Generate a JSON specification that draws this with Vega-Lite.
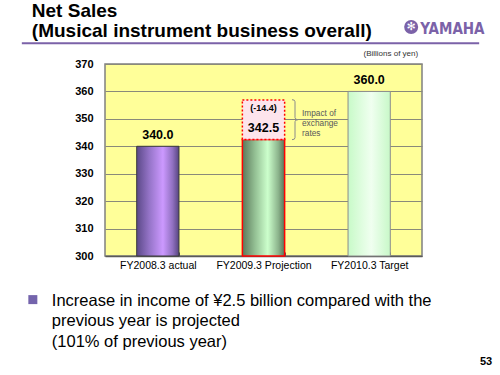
{
  "$schema": "https://vega.github.io/schema/vega-lite/v6.json",
  "width": 317,
  "height": 192,
  "autosize": {"type": "none"},
  "padding": {"left": 105, "top": 64, "right": 78, "bottom": 119},
  "background": "white",
  "config": {
    "font": "Liberation Sans",
    "view": {"fill": "#FFFF99", "stroke": "#808080", "strokeWidth": 1.5},
    "axis": {"labelFont": "Liberation Sans", "labelColor": "#000000", "title": null},
    "axisY": {"labelFontSize": 11, "labelFontWeight": "bold", "ticks": false, "labelPadding": 12, "domain": false, "grid": true, "gridColor": "#8a8a7a", "gridWidth": 1, "labelOverlap": false}
  },
  "datasets": {
    "sales": [
      {"year": "FY2008.3 actual", "sales": 340.0, "exFx": null, "fxLabel": null},
      {"year": "FY2009.3 Projection", "sales": 342.5, "exFx": 356.9, "fxLabel": "(-14.4)"},
      {"year": "FY2010.3 Target", "sales": 360.0, "exFx": null, "fxLabel": null}
    ],
    "one": [{}]
  },
  "data": {"name": "sales"},
  "encoding": {
    "y": {"type": "quantitative",
      "scale": {"domain": [300, 370], "nice": false, "zero": false},
      "axis": {"values": [300, 310, 320, 330, 340, 350, 360, 370], "tickCount": 8}}
  },
  "layer": [
    {
      "transform": [{"filter": "datum.year == 'FY2008.3 actual'"}],
      "mark": {
        "type": "bar",
        "stroke": "#3a3a3a",
        "strokeWidth": 1,
        "color": {"gradient": "linear", "x1": 0, "x2": 1, "y1": 0, "y2": 0,
          "stops": [{"offset": 0, "color": "#5b4988"}, {"offset": 0.3, "color": "#9574c8"}, {"offset": 0.62, "color": "#cc99ff"}, {"offset": 0.85, "color": "#9070c0"}, {"offset": 1, "color": "#574580"}]}
      },
      "encoding": {
        "x": {"field": "year", "type": "nominal", "sort": null,
          "scale": {"paddingInner": 0.6, "paddingOuter": 0.3},
          "axis": {"labelAngle": 0, "labelFontSize": 10.5, "labelPadding": 8, "tickBand": "extent", "tickSize": -4, "tickColor": "#555555", "domainColor": "#5a5a5a", "domainWidth": 1.5, "grid": false}},
        "y": {"field": "sales", "type": "quantitative",
          "scale": {"domain": [300, 370], "nice": false, "zero": false},
          "axis": {"values": [300, 310, 320, 330, 340, 350, 360, 370], "tickCount": 8}},
        "y2": {"datum": 300}
      }
    },
    {
      "transform": [{"filter": "datum.year == 'FY2009.3 Projection'"}],
      "mark": {
        "type": "bar",
        "stroke": "#ff0000",
        "strokeWidth": 1.5,
        "color": {"gradient": "linear", "x1": 0, "x2": 1, "y1": 0, "y2": 0,
          "stops": [{"offset": 0, "color": "#5a785a"}, {"offset": 0.3, "color": "#94c094"}, {"offset": 0.6, "color": "#ccffcc"}, {"offset": 0.85, "color": "#8cb48c"}, {"offset": 1, "color": "#587458"}]}
      },
      "encoding": {
        "x": {"field": "year", "type": "nominal", "sort": null},
        "y": {"field": "sales", "type": "quantitative"},
        "y2": {"datum": 300}
      }
    },
    {
      "transform": [{"filter": "datum.year == 'FY2010.3 Target'"}],
      "mark": {
        "type": "bar",
        "stroke": "#8c8c8c",
        "strokeWidth": 1,
        "color": {"gradient": "linear", "x1": 0, "x2": 1, "y1": 0, "y2": 0,
          "stops": [{"offset": 0, "color": "#c8fac8"}, {"offset": 0.55, "color": "#f0fff0"}, {"offset": 1, "color": "#c8f8c8"}]}
      },
      "encoding": {
        "x": {"field": "year", "type": "nominal", "sort": null},
        "y": {"field": "sales", "type": "quantitative"},
        "y2": {"datum": 300}
      }
    },
    {
      "transform": [{"filter": "isValid(datum.exFx)"}],
      "mark": {"type": "bar", "fill": "#fde4ec", "stroke": "#ff0000", "strokeWidth": 1.5, "strokeDash": [2, 2]},
      "encoding": {
        "x": {"field": "year", "type": "nominal", "sort": null},
        "y": {"field": "exFx", "type": "quantitative"},
        "y2": {"field": "sales"}
      }
    },
    {
      "mark": {"type": "text", "fontSize": 12.5, "fontWeight": "bold", "baseline": "alphabetic", "dy": -7, "color": "#000000"},
      "encoding": {
        "x": {"field": "year", "type": "nominal", "sort": null},
        "y": {"field": "sales", "type": "quantitative"},
        "text": {"field": "sales", "type": "quantitative", "format": ".1f"}
      }
    },
    {
      "transform": [{"filter": "isValid(datum.exFx)"}],
      "mark": {"type": "text", "fontSize": 9, "fontWeight": "bold", "baseline": "alphabetic", "dy": 11, "color": "#000000"},
      "encoding": {
        "x": {"field": "year", "type": "nominal", "sort": null},
        "y": {"field": "exFx", "type": "quantitative"},
        "text": {"field": "fxLabel", "type": "nominal"}
      }
    },
    {
      "data": {"name": "one"},
      "mark": {"type": "point", "shape": "M -0.15 -1 Q 0 -1 0 -0.9 L 0 -0.1 Q 0 0 0.15 0 Q 0 0 0 0.1 L 0 0.9 Q 0 1 -0.15 1", "filled": false, "stroke": "#8a8a8a", "strokeWidth": 1, "size": 1600, "xOffset": 31.5, "opacity": 1},
      "encoding": {
        "x": {"datum": "FY2009.3 Projection", "type": "nominal"},
        "y": {"datum": 349.7, "type": "quantitative"}
      }
    },
    {
      "data": {"name": "one"},
      "mark": {"type": "text", "align": "left", "baseline": "alphabetic", "dx": 38.5, "fontSize": 8.3, "fontWeight": "normal", "lineHeight": 10, "color": "#595959", "text": ["Impact of", "exchange", "rates"]},
      "encoding": {
        "x": {"datum": "FY2009.3 Projection", "type": "nominal"},
        "y": {"datum": 351.15, "type": "quantitative"}
      }
    },
    {
      "data": {"name": "one"},
      "mark": {"type": "text", "align": "right", "baseline": "alphabetic", "dx": 49, "fontSize": 8, "fontWeight": "normal", "color": "#333333", "text": "(Billions of yen)"},
      "encoding": {
        "x": {"datum": "FY2010.3 Target", "type": "nominal"},
        "y": {"datum": 372.9, "type": "quantitative"}
      }
    },
    {
      "data": {"name": "one"},
      "mark": {"type": "text", "align": "left", "baseline": "alphabetic", "dx": -126, "fontSize": 19, "fontWeight": "bold", "lineHeight": 20, "color": "#000000", "text": ["Net Sales", "(Musical instrument business overall)"]},
      "encoding": {
        "x": {"datum": "FY2008.3 actual", "type": "nominal"},
        "y": {"datum": 387.1, "type": "quantitative"}
      }
    },
    {
      "data": {"name": "one"},
      "mark": {"type": "rule", "stroke": "#7b62a8", "strokeWidth": 2, "xOffset": -136, "x2Offset": 110},
      "encoding": {
        "x": {"datum": "FY2008.3 actual", "type": "nominal"},
        "x2": {"datum": "FY2010.3 Target"},
        "y": {"datum": 377.6, "type": "quantitative"}
      }
    },
    {
      "data": {"name": "one"},
      "mark": {"type": "point", "shape": "circle", "filled": true, "fill": "#7b62a8", "opacity": 1, "size": 196, "xOffset": 42},
      "encoding": {
        "x": {"datum": "FY2010.3 Target", "type": "nominal"},
        "y": {"datum": 383.5, "type": "quantitative"}
      }
    },
    {
      "data": {"name": "one"},
      "mark": {"type": "text", "align": "center", "baseline": "middle", "dx": 42, "fontSize": 11, "font": "DejaVu Sans", "fontWeight": "normal", "color": "#ffffff", "text": "✻"},
      "encoding": {
        "x": {"datum": "FY2010.3 Target", "type": "nominal"},
        "y": {"datum": 383.5, "type": "quantitative"}
      }
    },
    {
      "data": {"name": "one"},
      "mark": {"type": "text", "align": "left", "baseline": "alphabetic", "dx": 51, "fontSize": 15, "fontWeight": "bold", "font": "DejaVu Sans Condensed, Liberation Sans", "color": "#7b62a8", "text": "YAMAHA"},
      "encoding": {
        "x": {"datum": "FY2010.3 Target", "type": "nominal"},
        "y": {"datum": 381.1, "type": "quantitative"}
      }
    },
    {
      "data": {"name": "one"},
      "mark": {"type": "point", "shape": "square", "filled": true, "fill": "#7464ac", "opacity": 1, "size": 81, "xOffset": -125},
      "encoding": {
        "x": {"datum": "FY2008.3 actual", "type": "nominal"},
        "y": {"datum": 284.1, "type": "quantitative"}
      }
    },
    {
      "data": {"name": "one"},
      "mark": {"type": "text", "align": "left", "baseline": "alphabetic", "dx": -106, "fontSize": 16.5, "fontWeight": "normal", "lineHeight": 20.5, "color": "#000000", "text": ["Increase in income of ¥2.5 billion compared with the", "previous year is projected", "(101% of previous year)"]},
      "encoding": {
        "x": {"datum": "FY2008.3 actual", "type": "nominal"},
        "y": {"datum": 281.8, "type": "quantitative"}
      }
    },
    {
      "data": {"name": "one"},
      "mark": {"type": "text", "align": "right", "baseline": "alphabetic", "dx": 123, "fontSize": 11, "fontWeight": "bold", "color": "#000000", "text": "53"},
      "encoding": {
        "x": {"datum": "FY2010.3 Target", "type": "nominal"},
        "y": {"datum": 260.3, "type": "quantitative"}
      }
    }
  ]
}
